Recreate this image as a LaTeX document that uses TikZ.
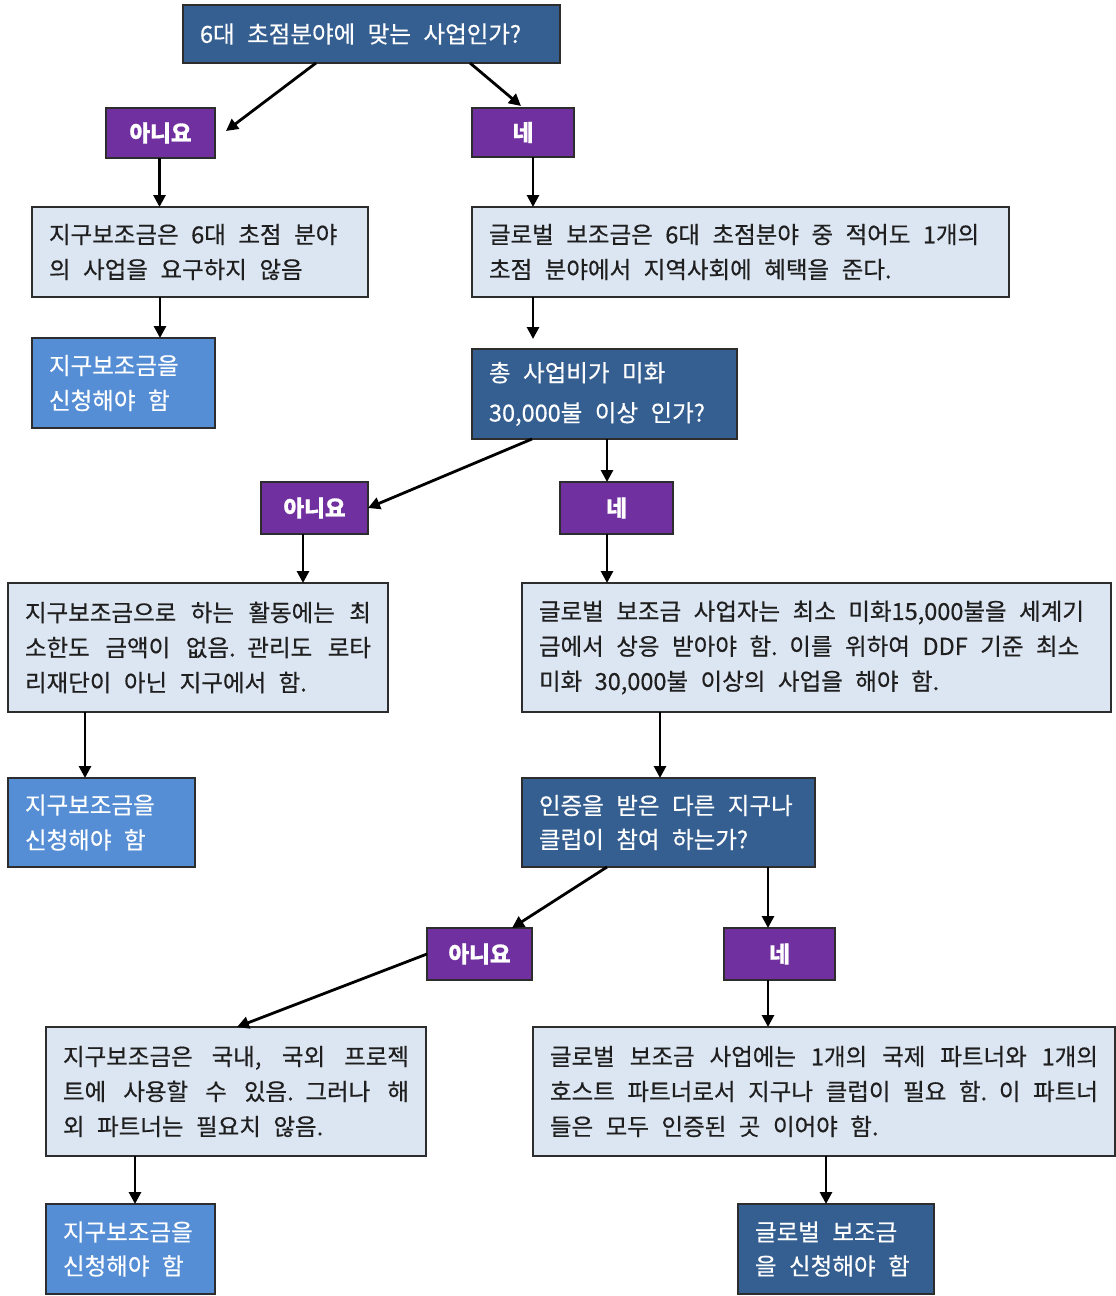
\documentclass[tikz,border=0pt]{standalone}
\usepackage{fontspec}
\setmainfont{Noto Sans CJK KR}[FakeBold=0.5]
\usetikzlibrary{calc,arrows.meta}
\setlength\parindent{0pt}
\definecolor{qblue}{RGB}{54,95,145}
\definecolor{labcol}{RGB}{112,48,160}
\definecolor{litecol}{RGB}{220,230,242}
\definecolor{applcol}{RGB}{85,142,213}
\definecolor{edgecol}{RGB}{45,45,45}
\newcommand\jl[1]{\makebox[\hsize][s]{#1}}
\newcommand\fsA{\fontsize{23.5}{35}\selectfont}
\newcommand\fsB{\fontsize{23.5}{40}\selectfont}
\newcommand\fsC{\fontsize{23.5}{34}\selectfont}
\newcommand\fsL{\bfseries\fontsize{22.5}{25}\selectfont}
\newcommand\bx[7]{%
  \pgfmathsetmacro\bxw{#5-#3}\pgfmathsetmacro\bxh{#6-#4}\pgfmathsetmacro\bxt{#5-#3-34}%
  \node[#2, minimum width=\bxw pt, minimum height=\bxh pt, text width=\bxt pt] (#1) at ({(#3+#5)/2},{(#4+#6)/2}) {\spaceskip=12.5pt plus 10pt minus 3pt\relax #7};}
\begin{document}
\begin{tikzpicture}[x=1pt,y=-1pt,
  base/.style={draw=edgecol, line width=1.3pt, rectangle, inner xsep=17pt, inner ysep=0pt, outer sep=0pt, align=left, font=\fsA},
  descbox/.style={base, fill=litecol, text=black!88},
  quesbox/.style={base, fill=qblue, text=white},
  applbox/.style={base, fill=applcol, text=white},
  ansbox/.style={base, fill=labcol, text=white, align=center, font=\fsL},
  arr/.style={-{Triangle[length=12pt,width=12pt]}, line width=2.8pt, black}]
\fill[white] (0,0) rectangle (1116,1296);
\useasboundingbox (0,0) rectangle (1116,1296);

\bx{q1}{quesbox}{183}{5}{560}{63}{6대 초점분야에 맞는 사업인가?}
\bx{no1}{ansbox}{106}{108}{215}{158}{아니요}
\bx{yes1}{ansbox}{472}{108}{574}{157}{네}
\bx{l1}{descbox}{32}{207}{368}{297}{지구보조금은 6대 초점 분야\\의 사업을 요구하지 않음}
\bx{r1}{descbox}{472}{207}{1009}{297}{글로벌 보조금은 6대 초점분야 중 적어도 1개의\\초점 분야에서 지역사회에 혜택을 준다.}
\bx{a1}{applbox}{32}{338}{215}{428}{지구보조금을\\신청해야 함}
\bx{q2}{quesbox, font=\fsB}{472}{349}{737}{439}{총 사업비가 미화\\30,000불 이상 인가?}
\bx{no2}{ansbox}{261}{482}{368}{534}{아니요}
\bx{yes2}{ansbox}{560}{482}{673}{534}{네}
\bx{l2}{descbox}{8}{583}{388}{712}{\jl{지구보조금으로 하는 활동에는 최}\\\jl{소한도 금액이 없음. 관리도 로타}\\리재단이 아닌 지구에서 함.}
\bx{r2}{descbox}{522}{583}{1111}{712}{글로벌 보조금 사업자는 최소 미화15,000불을 세계기\\금에서 상응 받아야 함. 이를 위하여 DDF 기준 최소\\미화 30,000불 이상의 사업을 해야 함.}
\bx{a2}{applbox}{8}{778}{195}{867}{지구보조금을\\신청해야 함}
\bx{q3}{quesbox, font=\fsC}{522}{778}{815}{867}{인증을 받은 다른 지구나\\클럽이 참여 하는가?}
\bx{no3}{ansbox}{427}{928}{532}{980}{아니요}
\bx{yes3}{ansbox}{724}{928}{835}{980}{네}
\bx{l3}{descbox}{46}{1027}{426}{1156}{\jl{지구보조금은 국내, 국외 프로젝}\\\jl{트에 사용할 수 있음. 그러나 해}\\외 파트너는 필요치 않음.}
\bx{r3}{descbox}{533}{1027}{1115}{1156}{\jl{글로벌 보조금 사업에는 1개의 국제 파트너와 1개의}\\\jl{호스트 파트너로서 지구나 클럽이 필요 함. 이 파트너}\\들은 모두 인증된 곳 이어야 함.}
\bx{a3}{applbox, font=\fsC}{46}{1204}{215}{1294}{지구보조금을\\신청해야 함}
\bx{a4}{quesbox, font=\fsC}{738}{1204}{934}{1294}{글로벌 보조금\\을 신청해야 함}

% connectors
\draw[arr] ($(q1.south west)+(133,0)$) -- ($(no1.east)+(11,-2)$);
\draw[arr] ($(q1.south east)+(-90,0)$) -- ($(yes1.north)+(-2,-2)$);
\draw[arr] ($(no1.south)+(-1,0)$) coordinate (c1) -- (c1 |- l1.north);
\draw[arr] ($(yes1.south)+(10,0)$) coordinate (c2) -- (c2 |- r1.north);
\draw[arr] ($(l1.south west)+(128,0)$) coordinate (c3) -- (c3 |- a1.north);
\draw[arr, shorten >=10pt] ($(r1.south west)+(61,0)$) coordinate (c4) -- (c4 |- q2.north);
\draw[arr] ($(q2.south west)+(60,0)$) -- (no2.east);
\draw[arr] ($(q2.south west)+(135,0)$) coordinate (c5) -- (c5 |- yes2.north);
\draw[arr] ($(no2.south west)+(42,0)$) coordinate (c6) -- (c6 |- l2.north);
\draw[arr] ($(yes2.south west)+(47,0)$) coordinate (c7) -- (c7 |- r2.north);
\draw[arr] ($(l2.south west)+(77,0)$) coordinate (c8) -- (c8 |- a2.north);
\draw[arr] ($(r2.south west)+(138,0)$) coordinate (c9) -- (c9 |- q3.north);
\draw[arr] ($(q3.south west)+(85,0)$) -- ($(no3.north east)+(-20,0)$);
\draw[arr] ($(q3.south west)+(246,0)$) coordinate (c10) -- (c10 |- yes3.north);
\draw[arr] (no3.west) -- ($(l3.north west)+(191,0)$);
\draw[arr] ($(yes3.south west)+(44,0)$) coordinate (c11) -- (c11 |- r3.north);
\draw[arr] ($(l3.south west)+(89,0)$) coordinate (c12) -- (c12 |- a3.north);
\draw[arr] ($(r3.south west)+(293,0)$) coordinate (c13) -- (c13 |- a4.north);
\end{tikzpicture}
\end{document}
